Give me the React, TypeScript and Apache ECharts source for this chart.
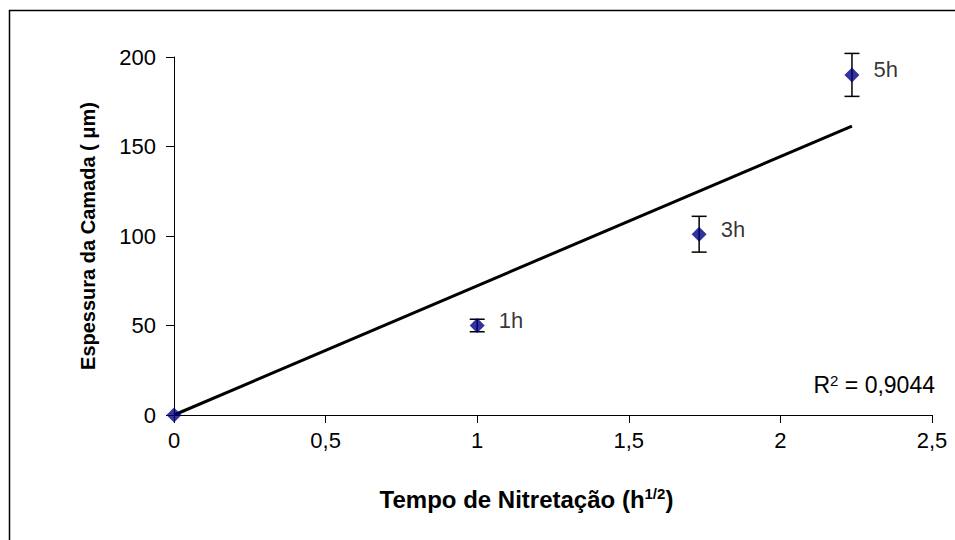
import React, { useEffect, useRef } from "react";
import * as echarts from "echarts";

const timeLabels = ["", "1h", "3h", "5h"];
const sqrtTime = [0, 1, 1.732, 2.236];
const thickness = [0, 50, 101, 190];
const errorPlusMinus = [0, 3.5, 10, 12];
const xTicks = [0, 0.5, 1, 1.5, 2, 2.5];
const yTicks = [0, 50, 100, 150, 200];
const r2Text = "0,9044";

export default function App() {
  const ref = useRef<HTMLDivElement>(null);
  useEffect(() => {
    if (!ref.current) return;
    const chart = echarts.init(ref.current, null, { renderer: "svg" });

    // linear trend through origin (least squares)
    let sxy = 0;
    let sxx = 0;
    sqrtTime.forEach((x, i) => {
      sxy += x * thickness[i];
      sxx += x * x;
    });
    const slope = sxy / sxx;
    const xMax = sqrtTime[sqrtTime.length - 1];
    const trend = [
      [0, 0],
      [xMax, slope * xMax],
    ];

    const points = sqrtTime.map((x, i) => ({
      value: [x, thickness[i]],
      name: timeLabels[i],
    }));
    const errs = sqrtTime
      .map((x, i) => [x, thickness[i] - errorPlusMinus[i], thickness[i] + errorPlusMinus[i]])
      .filter((_, i) => errorPlusMinus[i] > 0);

    const font = "'Liberation Sans', Arial, sans-serif";

    chart.setOption({
      animation: false,
      backgroundColor: "#fff",
      grid: { left: 174, right: 23, top: 57, bottom: 125, containLabel: false },
      xAxis: {
        type: "value",
        min: xTicks[0],
        max: xTicks[xTicks.length - 1],
        interval: 0.5,
        splitLine: { show: false },
        axisLine: { show: true, lineStyle: { color: "#000", width: 1 } },
        axisTick: { show: true, length: 8, lineStyle: { color: "#000" } },
        axisLabel: {
          margin: 14,
          fontFamily: font,
          fontSize: 22,
          color: "#000",
          formatter: (v: number) => String(v).replace(".", ","),
        },
        name: "{b|Tempo de Nitretação (h}{s|1/2}{b|)}",
        nameLocation: "middle",
        nameGap: 71,
        nameTextStyle: {
          padding: [0, 53, 0, 0],
          rich: {
            b: { fontFamily: font, fontSize: 24, fontWeight: "bold", color: "#000" },
            s: {
              fontFamily: font,
              fontSize: 15,
              fontWeight: "bold",
              color: "#000",
              verticalAlign: "top",
              padding: [0, 0, 11, 0],
            },
          },
        },
      },
      yAxis: {
        type: "value",
        min: yTicks[0],
        max: yTicks[yTicks.length - 1],
        interval: 50,
        splitLine: { show: false },
        axisLine: { show: true, lineStyle: { color: "#000", width: 1 } },
        axisTick: { show: true, length: 8, lineStyle: { color: "#000" } },
        axisLabel: { margin: 18, fontFamily: font, fontSize: 22, color: "#000" },
        name: "Espessura da Camada ( μm)",
        nameLocation: "middle",
        nameGap: 76,
        nameTextStyle: { fontFamily: font, fontSize: 20, fontWeight: "bold", color: "#000" },
      },
      graphic: [
        {
          type: "rect",
          shape: { x: 9.5, y: 10.5, width: 1000, height: 600 },
          style: { fill: "none", stroke: "#000", lineWidth: 1.5 },
          silent: true,
          z: 100,
        },
        {
          type: "text",
          x: 935,
          y: 385,
          style: {
            text: "{a|R}{s|2}{a| = " + r2Text + "}",
            align: "right",
            verticalAlign: "middle",
            rich: {
              a: { fontFamily: font, fontSize: 23, fill: "#000", color: "#000" },
              s: {
                fontFamily: font,
                fontSize: 15,
                fill: "#000",
                color: "#000",
                verticalAlign: "top",
                padding: [0, 0, 10, 0],
              },
            },
          },
        },
      ],
      series: [
        {
          type: "line",
          data: trend,
          showSymbol: false,
          symbol: "none",
          lineStyle: { color: "#000", width: 3 },
          z: 2,
        },
        {
          type: "custom",
          data: errs,
          z: 3,
          renderItem: (params: any, api: any) => {
            const x = api.value(0);
            const lo = api.coord([x, api.value(1)]);
            const hi = api.coord([x, api.value(2)]);
            const hw = 7.5;
            const st = { stroke: "#000", lineWidth: 1.5 };
            return {
              type: "group",
              children: [
                { type: "line", shape: { x1: lo[0], y1: lo[1], x2: hi[0], y2: hi[1] }, style: st },
                { type: "line", shape: { x1: lo[0] - hw, y1: lo[1], x2: lo[0] + hw, y2: lo[1] }, style: st },
                { type: "line", shape: { x1: hi[0] - hw, y1: hi[1], x2: hi[0] + hw, y2: hi[1] }, style: st },
              ],
            };
          },
        },
        {
          type: "scatter",
          data: points,
          symbol: "diamond",
          symbolSize: 15,
          itemStyle: { color: "#000080" },
          z: 4,
          label: {
            show: true,
            position: "right",
            distance: 14,
            offset: [0, -5],
            formatter: (p: any) => p.name,
            fontFamily: font,
            fontSize: 22,
            color: "#000",
          },
        },
      ],
    });
    return () => chart.dispose();
  }, []);
  return (
    <div
      ref={ref}
      style={{ position: "fixed", left: 0, top: 0, width: 955, height: 540, background: "#fff" }}
    />
  );
}
